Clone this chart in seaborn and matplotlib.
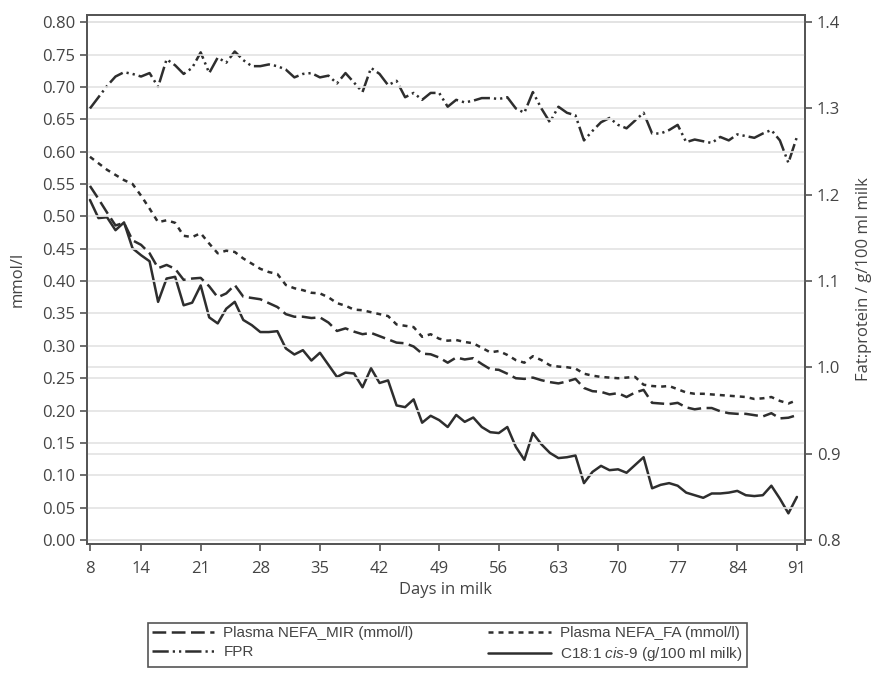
import numpy as np
import seaborn as sns
import matplotlib.pyplot as plt

# Days in milk, one value per day
days = list(range(8, 92))

# Plasma NEFA predicted from MIR (mmol/l), left axis
nefa_mir = [0.547, 0.527, 0.506, 0.486, 0.490, 0.463, 0.456, 0.443, 0.420, 0.425,
            0.419, 0.402, 0.404, 0.405, 0.392, 0.375, 0.381, 0.394, 0.376, 0.374,
            0.372, 0.366, 0.360, 0.349, 0.345, 0.345, 0.343, 0.344, 0.336, 0.323,
            0.327, 0.322, 0.318, 0.320, 0.315, 0.310, 0.305, 0.304, 0.299, 0.288,
            0.287, 0.282, 0.274, 0.282, 0.279, 0.281, 0.272, 0.264, 0.263, 0.257,
            0.250, 0.249, 0.251, 0.247, 0.244, 0.242, 0.245, 0.249, 0.235, 0.230,
            0.229, 0.225, 0.227, 0.221, 0.228, 0.232, 0.212, 0.211, 0.210, 0.212,
            0.205, 0.202, 0.204, 0.204, 0.199, 0.196, 0.195, 0.195, 0.193, 0.191,
            0.196, 0.188, 0.189, 0.193]

# Plasma NEFA predicted from milk fatty acids (mmol/l), left axis
nefa_fa = [0.592, 0.582, 0.572, 0.564, 0.556, 0.550, 0.532, 0.512, 0.491, 0.494,
           0.490, 0.470, 0.468, 0.474, 0.458, 0.443, 0.447, 0.445, 0.435, 0.427,
           0.419, 0.414, 0.411, 0.394, 0.389, 0.386, 0.382, 0.381, 0.375, 0.366,
           0.362, 0.356, 0.355, 0.352, 0.349, 0.346, 0.333, 0.331, 0.329, 0.314,
           0.318, 0.311, 0.308, 0.309, 0.306, 0.304, 0.297, 0.290, 0.292, 0.286,
           0.278, 0.274, 0.284, 0.278, 0.270, 0.268, 0.267, 0.265, 0.257, 0.254,
           0.252, 0.251, 0.250, 0.251, 0.252, 0.240, 0.238, 0.237, 0.238, 0.233,
           0.228, 0.226, 0.226, 0.225, 0.224, 0.223, 0.222, 0.221, 0.218, 0.219,
           0.221, 0.215, 0.211, 0.216]

# Fat:protein ratio, right axis
fpr = [1.300, 1.313, 1.326, 1.337, 1.342, 1.340, 1.337, 1.341, 1.325, 1.357,
       1.350, 1.340, 1.347, 1.365, 1.341, 1.359, 1.353, 1.366, 1.356, 1.349,
       1.349, 1.351, 1.349, 1.345, 1.336, 1.340, 1.341, 1.336, 1.338, 1.329,
       1.341, 1.330, 1.319, 1.347, 1.340, 1.327, 1.332, 1.313, 1.318, 1.310,
       1.318, 1.318, 1.302, 1.310, 1.307, 1.309, 1.312, 1.312, 1.311, 1.313,
       1.300, 1.295, 1.319, 1.300, 1.284, 1.302, 1.295, 1.292, 1.263, 1.274,
       1.284, 1.289, 1.281, 1.277, 1.286, 1.295, 1.271, 1.271, 1.275, 1.281,
       1.261, 1.264, 1.262, 1.260, 1.267, 1.263, 1.270, 1.268, 1.266, 1.271,
       1.275, 1.263, 1.237, 1.267]

# C18:1 cis-9 (g/100 ml milk), right axis
c181 = [1.194, 1.173, 1.174, 1.159, 1.168, 1.138, 1.130, 1.123, 1.076, 1.103,
        1.105, 1.072, 1.075, 1.095, 1.058, 1.051, 1.068, 1.076, 1.055, 1.049,
        1.041, 1.041, 1.042, 1.022, 1.015, 1.020, 1.008, 1.017, 1.003, 0.989,
        0.994, 0.993, 0.977, 0.999, 0.982, 0.985, 0.956, 0.954, 0.963, 0.936,
        0.944, 0.939, 0.931, 0.945, 0.937, 0.942, 0.931, 0.925, 0.924, 0.931,
        0.908, 0.893, 0.924, 0.911, 0.901, 0.895, 0.896, 0.898, 0.866, 0.879,
        0.886, 0.881, 0.882, 0.878, 0.887, 0.896, 0.860, 0.864, 0.866, 0.863,
        0.855, 0.852, 0.849, 0.854, 0.854, 0.855, 0.857, 0.852, 0.851, 0.852,
        0.863, 0.848, 0.831, 0.850]

x_ticks = [8, 14, 21, 28, 35, 42, 49, 56, 63, 70, 77, 84, 91]
left_ticks = np.arange(0, 0.801, 0.05)
right_ticks = np.arange(0.8, 1.401, 0.1)

sns.set_style("white")
plt.rcParams["font.family"] = ["Open Sans", "DejaVu Sans"]
plt.rcParams["mathtext.fontset"] = "custom"
plt.rcParams["mathtext.rm"] = "Liberation Sans"
plt.rcParams["mathtext.it"] = "Liberation Sans:italic"

line_col = "#2e2e2e"
text_col = "#444444"
grid_col = "#e3e3e3"

fig = plt.figure(figsize=(8.75, 6.73), dpi=100)
ax2 = fig.add_axes([0.0994, 0.1917, 0.8206, 0.786])
ax = ax2.twinx()
# left axis on top so its lines draw over the right-axis ones
ax.yaxis.tick_left()
ax.yaxis.set_label_position("left")
ax2.yaxis.tick_right()
ax2.yaxis.set_label_position("right")

lw = 1.8
sns.lineplot(x=days, y=nefa_mir, ax=ax, color=line_col, linewidth=lw,
             label="Plasma NEFA_MIR (mmol/l)", legend=False)
ax.lines[-1].set_dashes((5.5, 2.2))
sns.lineplot(x=days, y=nefa_fa, ax=ax, color=line_col, linewidth=lw,
             label="Plasma NEFA_FA (mmol/l)", legend=False)
ax.lines[-1].set_dashes((2, 2))
sns.lineplot(x=days, y=fpr, ax=ax2, color=line_col, linewidth=lw,
             label="FPR", legend=False)
ax2.lines[-1].set_dashes((6.5, 1.6, 0.9, 1.6, 0.9, 1.6))
sns.lineplot(x=days, y=c181, ax=ax2, color=line_col, linewidth=lw,
             label=r"C18:1 $\it{cis}$-9 (g/100 ml milk)", legend=False)

ax2.set_xlim(7.65, 91.95)
ax.set_ylim(-0.006, 0.811)
ax2.set_ylim(0.8 - 0.006 * 0.75, 0.8 + 0.811 * 0.75)

ax2.set_xticks(x_ticks)
ax.set_yticks(left_ticks)
ax.set_yticklabels([f"{v:.2f}" for v in left_ticks])
ax2.set_yticks(right_ticks)
ax2.set_yticklabels([f"{v:.1f}" for v in right_ticks])

ax2.set_axisbelow(True)
ax.set_axisbelow(True)
ax2.yaxis.grid(True, color=grid_col, linewidth=1.2)
ax.yaxis.grid(True, color=grid_col, linewidth=1.2)
ax.xaxis.grid(False)
ax2.xaxis.grid(False)

for a in (ax, ax2):
    for s in a.spines.values():
        s.set_color("#555555")
        s.set_linewidth(1.3)
    a.tick_params(direction="out", length=5, width=1.2, color="#555555",
                  labelsize=12, labelcolor=text_col)
ax2.tick_params(axis="x", bottom=True, labelbottom=True, pad=7)

ax2.set_xlabel("Days in milk", fontsize=12, color=text_col, labelpad=4)
ax.set_ylabel("mmol/l", fontsize=12, color=text_col, labelpad=12)
ax2.set_ylabel("Fat:protein / g/100 ml milk", fontsize=12, color=text_col, labelpad=11)

h1, l1 = ax.get_legend_handles_labels()
h2, l2 = ax2.get_legend_handles_labels()
handles = [h1[0], h2[0], h1[1], h2[1]]
labels = [l1[0], l2[0], l1[1], l2[1]]
leg = fig.legend(handles, labels, ncol=2, loc="center",
                 bbox_to_anchor=(0.511, 0.042), bbox_transform=fig.transFigure,
                 frameon=True, fancybox=False, framealpha=1, edgecolor="#555555",
                 handlelength=4.1, handletextpad=0.6, columnspacing=4.9,
                 borderpad=0.25, labelspacing=0.3,
                 prop={"family": "Liberation Sans", "size": 11})
leg.get_frame().set_linewidth(1.2)
for t in leg.get_texts():
    t.set_color(text_col)

fig.savefig("out.png", dpi=100)
